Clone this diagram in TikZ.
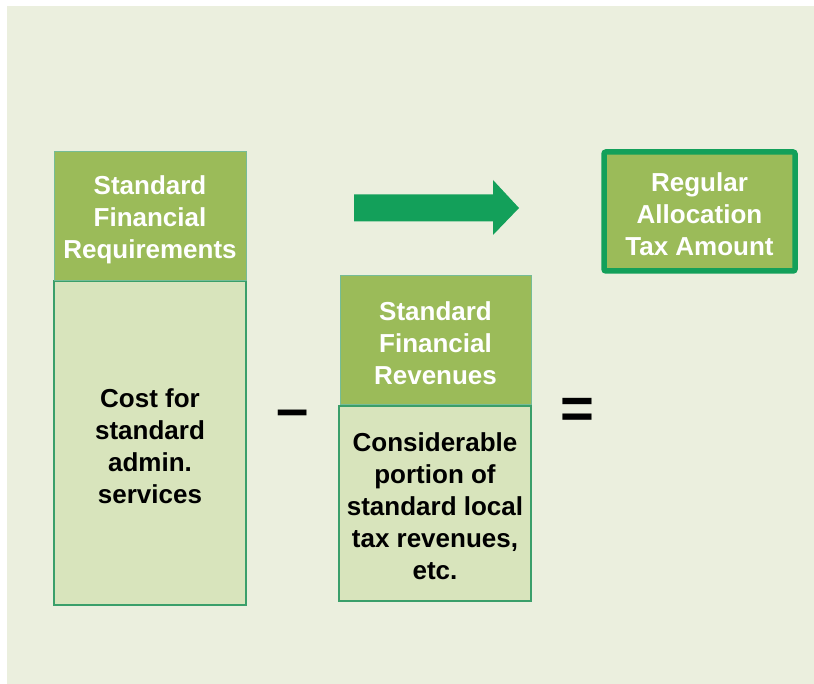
\documentclass[tikz,border=0pt]{standalone}
\usepackage{fontspec}
\setmainfont{Liberation Sans}
\definecolor{bgc}{RGB}{235,239,222}
\definecolor{hdrfill}{RGB}{155,187,89}
\definecolor{bodyfill}{RGB}{216,228,188}
\definecolor{edge}{RGB}{58,159,106}
\definecolor{arrowgreen}{RGB}{19,160,90}
\begin{document}
\begin{tikzpicture}[x=1pt,y=-1pt,
  boxtext/.style={align=center, font=\fontsize{26}{32}\selectfont\bfseries,
    inner sep=0pt, yshift=-3pt},
  hdr/.style={draw=edge!70, line width=1pt, fill=hdrfill, inner sep=0pt},
  hdrtext/.style={boxtext, text=white},
  bodybox/.style={draw=edge, line width=2.5pt, fill=bodyfill, inner sep=0pt},
  bodytext/.style={boxtext, text=black},
  result/.style={draw=arrowgreen, line width=5.5pt, rounded corners=2pt, fill=hdrfill,
    inner sep=0pt},
  op/.style={font=\fontsize{58}{58}\selectfont\bfseries, inner sep=0pt}]
  % backdrop
  \useasboundingbox (0,0) rectangle (814,684);
  \fill[bgc] (7,6) rectangle (814,684);

  % left column: requirements
  \node[bodybox, minimum width=192, minimum height=324,
    label={[bodytext]center:{Cost for\\standard\\admin.\\services}}] (cost) at (150,443) {};
  \node[hdr, minimum width=192, minimum height=129,
    label={[hdrtext]center:{Standard\\Financial\\Requirements}}] (sfr) at (150,216.5) {};

  % middle column: revenues
  \node[bodybox, minimum width=192, minimum height=195,
    label={[bodytext]center:{Considerable\\portion of\\standard local\\tax revenues,\\etc.}}] (tax) at (435,503.5) {};
  \node[hdr, minimum width=191, minimum height=129,
    label={[hdrtext]center:{Standard\\Financial\\Revenues}}] (sfv) at (435.5,340.5) {};

  % result
  \node[result, minimum width=191, minimum height=119,
    label={[hdrtext]center:{Regular\\Allocation\\Tax Amount}}] (rat) at (699.5,211.5) {};

  % operators
  \node[op] (minus) at (293,419) {–};
  \node[op] (equals) at (577,413) {=};

  % block arrow
  \fill[arrowgreen] (354,194.5) -- (493,194.5) -- (493,180) -- (519,208) -- (493,235)
    -- (493,221.5) -- (354,221.5) -- cycle;
\end{tikzpicture}
\end{document}
